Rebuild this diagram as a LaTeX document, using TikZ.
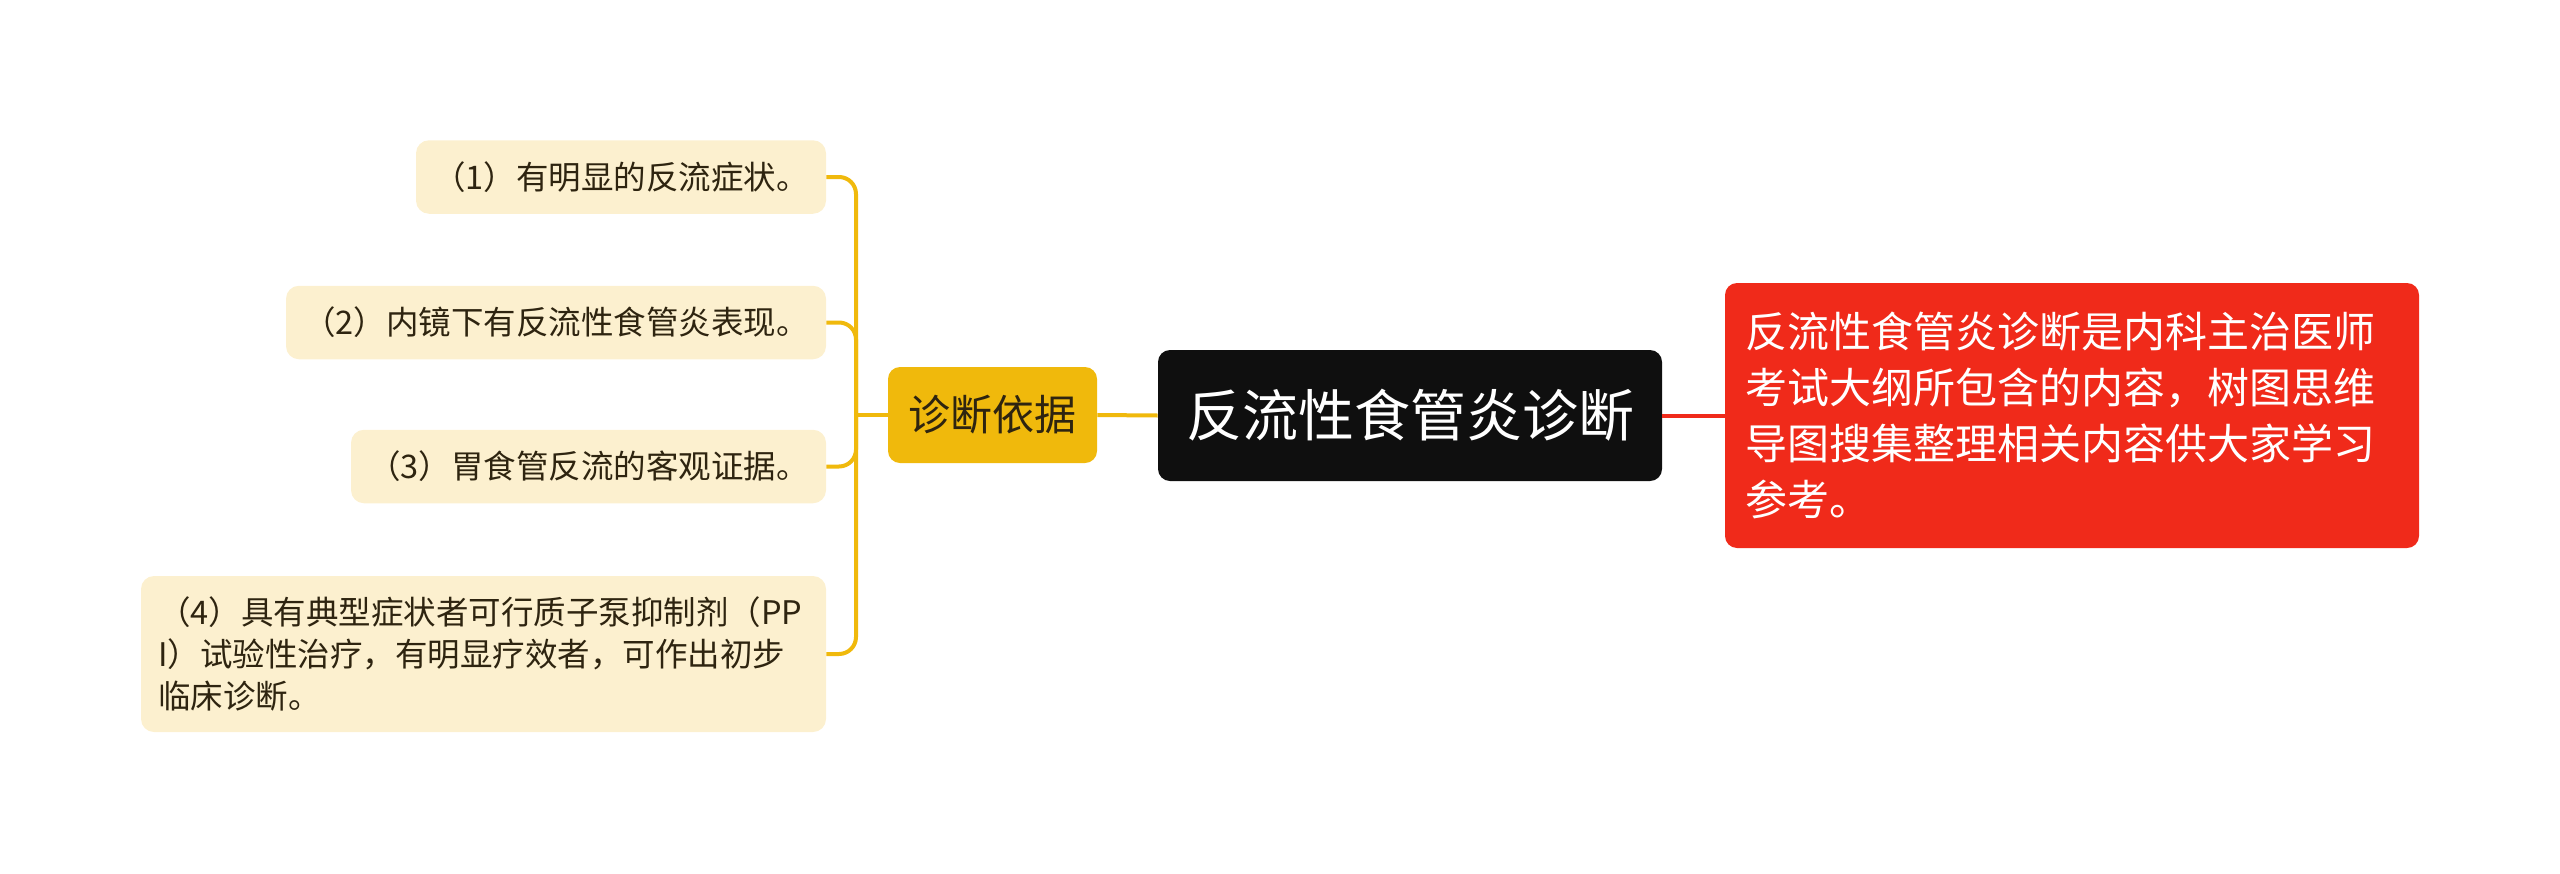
\documentclass[tikz,border=0pt]{standalone}
\usepackage{fontspec}
\newfontfamily\cjk{Noto Sans CJK SC}
\definecolor{leaffill}{HTML}{FCF0CF}
\definecolor{leaftext}{HTML}{2E2410}
\definecolor{yel}{HTML}{F0B90C}
\definecolor{rootfill}{HTML}{0F0F0F}
\definecolor{redfill}{HTML}{F02A1A}
\begin{document}
\begin{tikzpicture}[x=0.5pt,y=-0.5pt,
  leaf/.style={fill=leaffill, rounded corners=6.5pt, inner xsep=8.5pt, inner ysep=0pt,
    text=leaftext, font=\cjk\fontsize{16.25pt}{21pt}\selectfont, minimum height=36.75pt},
  subbox/.style={fill=yel, rounded corners=6pt, inner sep=0pt, text=leaftext,
    font=\cjk\fontsize{21pt}{28pt}\selectfont, minimum width=104.5pt, minimum height=48pt},
  rootbox/.style={fill=rootfill, rounded corners=6pt, inner sep=0pt, text=white,
    font=\cjk\fontsize{28pt}{36pt}\selectfont, minimum width=252pt, minimum height=65.5pt},
  redbox/.style={fill=redfill, rounded corners=6pt, inner xsep=10pt, inner ysep=0pt, text=white,
    font=\cjk\fontsize{21pt}{28pt}\selectfont, text width=327pt, align=left, minimum height=132.5pt},
  yline/.style={draw=yel, line width=2pt, rounded corners=8.5pt},
  rline/.style={draw=redfill, line width=2pt}
]
\useasboundingbox (0,0) rectangle (2560,873);

\node[leaf, minimum width=205pt] (n1) at (621,177) {（1）有明显的反流症状。};
\node[leaf, minimum width=270pt] (n2) at (556,322.5) {（2）内镜下有反流性食管炎表现。};
\node[leaf, minimum width=237.5pt] (n3) at (588.5,466.5) {（3）胃食管反流的客观证据。};
\node[leaf, text width=325.5pt, align=left, minimum height=78pt] (n4) at (483.5,654)
  {（4）具有典型症状者可行质子泵抑制剂（PP\\I）试验性治疗，有明显疗效者，可作出初步\\临床诊断。};

\node[subbox] (sub) at (992.5,415) {诊断依据};
\node[rootbox] (root) at (1410,415.5) {反流性食管炎诊断};
\node[redbox] (red) at (2072,415.5)
  {反流性食管炎诊断是内科主治医师\\考试大纲所包含的内容，树图思维\\导图搜集整理相关内容供大家学习\\参考。};

\coordinate (hub) at (856,415);
\draw[yline] (n1.east) -| (hub);
\draw[yline] (n2.east) -| (hub);
\draw[yline] (n3.east) -| (hub);
\draw[yline] (n4.east) -| (hub);
\draw[yline] (hub) -- (sub.west);
\draw[yline] (sub.east) -- (root.west);
\draw[rline] (root.east) -- (red.west);
\end{tikzpicture}
\end{document}
